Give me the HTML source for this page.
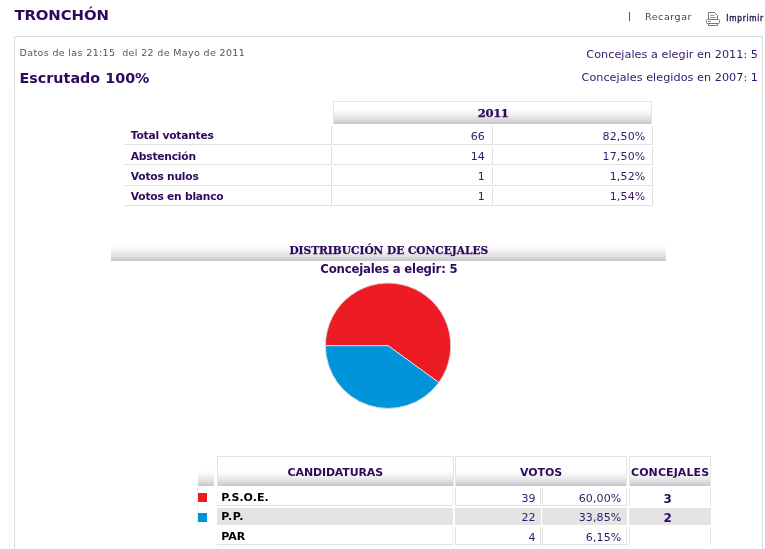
<!DOCTYPE html><html lang="es"><head><meta charset="utf-8"><title>TRONCHÓN</title><style>
html,body{margin:0;padding:0;background:#fff;}
body{width:765px;height:549px;position:relative;overflow:hidden;font-family:"DejaVu Sans","Liberation Sans",sans-serif;color:#2d0a5e;}
.a{position:absolute;white-space:nowrap;line-height:1;}
.b{font-weight:bold;}
.r{text-align:right;}
.c{text-align:center;}
.ser{font-family:"DejaVu Serif Condensed","DejaVu Serif","Liberation Serif",serif;font-weight:bold;}
.ser2{font-family:"DejaVu Serif","Liberation Serif",serif;font-weight:bold;-webkit-text-stroke:0.25px;}
.cond{font-family:"DejaVu Sans Condensed","DejaVu Sans",sans-serif;}
.mono{font-family:"DejaVu Sans Mono","Liberation Mono",monospace;}
.grad{background:#fff linear-gradient(to bottom,#fdfdfd 0%,#f3f3f4 33%,#e0e0e2 66%,#c6c6c9 100%) no-repeat left bottom / 100% 15px;}
.ln{position:absolute;background:#e0e0e0;}
</style></head><body>
<div class="a b" style="font-size:14.9px;letter-spacing:-0.1px;left:14.4px;top:7.79px;">TRONCHÓN</div>
<div class="ln" style="left:629px;top:12px;width:1px;height:9px;background:#555;"></div>
<div class="a " style="font-size:9.5px;color:#484444;letter-spacing:0.55px;left:645px;top:11.76px;">Recargar</div>
<svg class="a" style="left:705px;top:11px" width="16" height="16" viewBox="0 0 16 16" fill="none" stroke="#777" stroke-width="1">
<path d="M3.5 8.5V1.5H9.5L12.5 4.5V8.5"/><path d="M5 4.5H9.5M5 6.5H11" stroke="#999"/>
<rect x="1.5" y="8.5" width="13" height="4" rx="1" fill="#fff"/><path d="M3 10.5H6" stroke="#888"/>
<path d="M3.5 12.5V14.5H12.5V12.5"/></svg>
<div class="a cond" style="font-size:8.3px;color:#24104a;-webkit-text-stroke:0.35px #24104a;letter-spacing:0.72px;left:726.3px;top:13.98px;">Imprimir</div>
<div class="a " style="left:14px;top:36px;width:747px;height:600px;border:1px solid #dcdcdc;"></div>
<div class="ln" style="left:9px;top:88px;width:1px;height:470px;background:#f7f7f7;"></div>
<div class="a " style="font-size:9.5px;color:#555;letter-spacing:0.36px;left:19.6px;top:48.36px;">Datos de las 21:15&nbsp; del 22 de Mayo de 2011</div>
<div class="a b" style="font-size:14.3px;letter-spacing:0.03px;left:19.4px;top:70.70px;">Escrutado 100%</div>
<div class="a " style="font-size:11.2px;color:#36166c;letter-spacing:0.05px;right:7px;top:48.92px;">Concejales a elegir en 2011: 5</div>
<div class="a " style="font-size:11.2px;color:#36166c;letter-spacing:0.05px;right:7px;top:72.12px;">Concejales elegidos en 2007: 1</div>
<div class="a grad" style="left:333px;top:101px;width:319px;height:23px;border:1px solid #e4e4e4;border-bottom:none;box-sizing:border-box;"></div>
<div class="a ser2" style="font-size:11.6px;letter-spacing:-0.4px;left:293.2px;width:400px;text-align:center;top:108.29px;">2011</div>
<div class="ln" style="left:124px;top:144px;width:208px;height:1px;"></div>
<div class="ln" style="left:331px;top:126px;width:1px;height:19px;"></div>
<div class="ln" style="left:333px;top:144px;width:160px;height:1px;"></div>
<div class="ln" style="left:492px;top:126px;width:1px;height:19px;"></div>
<div class="ln" style="left:494px;top:144px;width:159px;height:1px;"></div>
<div class="ln" style="left:652px;top:126px;width:1px;height:19px;"></div>
<div class="a b" style="font-size:10.7px;letter-spacing:-0.22px;left:130.8px;top:131.35px;">Total votantes</div>
<div class="a " style="font-size:11px;color:#36166c;right:280.2px;top:130.79px;">66</div>
<div class="a " style="font-size:11px;color:#36166c;letter-spacing:0.15px;right:119.60000000000002px;top:130.79px;">82,50%</div>
<div class="ln" style="left:124px;top:164px;width:208px;height:1px;"></div>
<div class="ln" style="left:331px;top:147px;width:1px;height:18px;"></div>
<div class="ln" style="left:333px;top:164px;width:160px;height:1px;"></div>
<div class="ln" style="left:492px;top:147px;width:1px;height:18px;"></div>
<div class="ln" style="left:494px;top:164px;width:159px;height:1px;"></div>
<div class="ln" style="left:652px;top:147px;width:1px;height:18px;"></div>
<div class="a b" style="font-size:10.7px;letter-spacing:-0.22px;left:130.8px;top:151.55px;">Abstención</div>
<div class="a " style="font-size:11px;color:#36166c;right:280.2px;top:150.99px;">14</div>
<div class="a " style="font-size:11px;color:#36166c;letter-spacing:0.15px;right:119.60000000000002px;top:150.99px;">17,50%</div>
<div class="ln" style="left:124px;top:185px;width:208px;height:1px;"></div>
<div class="ln" style="left:331px;top:167px;width:1px;height:19px;"></div>
<div class="ln" style="left:333px;top:185px;width:160px;height:1px;"></div>
<div class="ln" style="left:492px;top:167px;width:1px;height:19px;"></div>
<div class="ln" style="left:494px;top:185px;width:159px;height:1px;"></div>
<div class="ln" style="left:652px;top:167px;width:1px;height:19px;"></div>
<div class="a b" style="font-size:10.7px;letter-spacing:-0.22px;left:130.8px;top:171.75px;">Votos nulos</div>
<div class="a " style="font-size:11px;color:#36166c;right:280.2px;top:171.19px;">1</div>
<div class="a " style="font-size:11px;color:#36166c;letter-spacing:0.15px;right:119.60000000000002px;top:171.19px;">1,52%</div>
<div class="ln" style="left:124px;top:205px;width:208px;height:1px;"></div>
<div class="ln" style="left:331px;top:187px;width:1px;height:19px;"></div>
<div class="ln" style="left:333px;top:205px;width:160px;height:1px;"></div>
<div class="ln" style="left:492px;top:187px;width:1px;height:19px;"></div>
<div class="ln" style="left:494px;top:205px;width:159px;height:1px;"></div>
<div class="ln" style="left:652px;top:187px;width:1px;height:19px;"></div>
<div class="a b" style="font-size:10.7px;letter-spacing:-0.22px;left:130.8px;top:191.95px;">Votos en blanco</div>
<div class="a " style="font-size:11px;color:#36166c;right:280.2px;top:191.39px;">1</div>
<div class="a " style="font-size:11px;color:#36166c;letter-spacing:0.15px;right:119.60000000000002px;top:191.39px;">1,54%</div>
<div class="a grad" style="left:111px;top:238px;width:555px;height:23px;"></div>
<div class="a ser2" style="font-size:10.6px;left:188.8px;width:400px;text-align:center;top:244.63px;">DISTRIBUCIÓN DE CONCEJALES</div>
<div class="a b" style="font-size:11.7px;letter-spacing:-0.2px;left:188.89999999999998px;width:400px;text-align:center;top:263.70px;">Concejales a elegir: 5</div>
<svg class="a" style="left:0;top:0" width="765" height="549" viewBox="0 0 765 549">
<path d="M388.1 345.7 L325.40000000000003 345.7 A62.7 62.7 0 1 1 438.83 382.55 Z" fill="#ed1c24" stroke="#dcd4d4" stroke-width="1" stroke-linejoin="round"/>
<path d="M388.1 345.7 L438.83 382.55 A62.7 62.7 0 0 1 325.40000000000003 345.7 Z" fill="#0095da" stroke="#d4d8dc" stroke-width="1" stroke-linejoin="round"/>
</svg>
<div class="a grad" style="left:198px;top:456px;width:16px;height:30px;"></div>
<div class="a grad" style="left:217px;top:456px;width:237px;height:30px;border:1px solid #e4e4e4;border-bottom:none;box-sizing:border-box;"></div>
<div class="a grad" style="left:455px;top:456px;width:172px;height:30px;border:1px solid #e4e4e4;border-bottom:none;box-sizing:border-box;"></div>
<div class="a grad" style="left:629px;top:456px;width:82px;height:30px;border:1px solid #e4e4e4;border-bottom:none;box-sizing:border-box;"></div>
<div class="a b" style="font-size:11px;letter-spacing:-0.15px;left:135.3px;width:400px;text-align:center;top:466.59px;">CANDIDATURAS</div>
<div class="a b" style="font-size:11px;letter-spacing:-0.1px;left:341px;width:400px;text-align:center;top:466.59px;">VOTOS</div>
<div class="a b" style="font-size:11px;letter-spacing:0.1px;left:470.1px;width:400px;text-align:center;top:466.59px;">CONCEJALES</div>
<div class="ln" style="left:217px;top:505px;width:236px;height:1px;"></div>
<div class="ln" style="left:452px;top:488px;width:1px;height:18px;background:#f4f4f4;"></div>
<div class="ln" style="left:455px;top:505px;width:86px;height:1px;"></div>
<div class="ln" style="left:455px;top:488px;width:1px;height:18px;"></div>
<div class="ln" style="left:540px;top:488px;width:1px;height:18px;"></div>
<div class="ln" style="left:542px;top:505px;width:85px;height:1px;"></div>
<div class="ln" style="left:542px;top:488px;width:1px;height:18px;"></div>
<div class="ln" style="left:626px;top:488px;width:1px;height:18px;"></div>
<div class="ln" style="left:629px;top:488px;width:1px;height:18px;background:#e6e6e6;"></div>
<div class="ln" style="left:710px;top:488px;width:1px;height:18px;background:#e6e6e6;"></div>
<div class="a " style="left:198px;top:493px;width:9px;height:9px;background:#ed1c24;"></div>
<div class="a b" style="font-size:11px;color:#000;letter-spacing:0px;left:221.3px;top:492.09px;">P.S.O.E.</div>
<div class="a " style="font-size:11px;color:#36166c;right:229.39999999999998px;top:492.99px;">39</div>
<div class="a " style="font-size:11px;color:#36166c;letter-spacing:0.1px;right:143.70000000000005px;top:492.99px;">60,00%</div>
<div class="a b" style="font-size:12px;left:467.79999999999995px;width:400px;text-align:center;top:492.85px;">3</div>
<div class="a " style="left:217px;top:508px;width:236px;height:17px;background:#e4e4e4;"></div>
<div class="a " style="left:455px;top:508px;width:86px;height:17px;background:#e4e4e4;"></div>
<div class="a " style="left:542px;top:508px;width:85px;height:17px;background:#e4e4e4;"></div>
<div class="a " style="left:629px;top:508px;width:82px;height:17px;background:#e4e4e4;"></div>
<div class="a " style="left:198px;top:513px;width:9px;height:9px;background:#0095da;"></div>
<div class="a b" style="font-size:11px;color:#000;letter-spacing:0.6px;left:221.3px;top:511.09px;">P.P.</div>
<div class="a " style="font-size:11px;color:#36166c;right:229.39999999999998px;top:511.99px;">22</div>
<div class="a " style="font-size:11px;color:#36166c;letter-spacing:0.1px;right:143.70000000000005px;top:511.99px;">33,85%</div>
<div class="a b" style="font-size:12px;left:467.79999999999995px;width:400px;text-align:center;top:511.85px;">2</div>
<div class="ln" style="left:217px;top:544px;width:236px;height:1px;"></div>
<div class="ln" style="left:452px;top:527px;width:1px;height:18px;background:#f4f4f4;"></div>
<div class="ln" style="left:455px;top:544px;width:86px;height:1px;"></div>
<div class="ln" style="left:455px;top:527px;width:1px;height:18px;"></div>
<div class="ln" style="left:540px;top:527px;width:1px;height:18px;"></div>
<div class="ln" style="left:542px;top:544px;width:85px;height:1px;"></div>
<div class="ln" style="left:542px;top:527px;width:1px;height:18px;"></div>
<div class="ln" style="left:626px;top:527px;width:1px;height:18px;"></div>
<div class="ln" style="left:629px;top:527px;width:1px;height:18px;background:#e6e6e6;"></div>
<div class="ln" style="left:710px;top:527px;width:1px;height:18px;background:#e6e6e6;"></div>
<div class="a b" style="font-size:11px;color:#000;letter-spacing:0px;left:221.3px;top:531.09px;">PAR</div>
<div class="a " style="font-size:11px;color:#36166c;right:229.39999999999998px;top:531.99px;">4</div>
<div class="a " style="font-size:11px;color:#36166c;letter-spacing:0.1px;right:143.70000000000005px;top:531.99px;">6,15%</div>
<div class="ln" style="left:197px;top:488px;width:1px;height:37px;background:#eeeeee;"></div>
</body></html>
